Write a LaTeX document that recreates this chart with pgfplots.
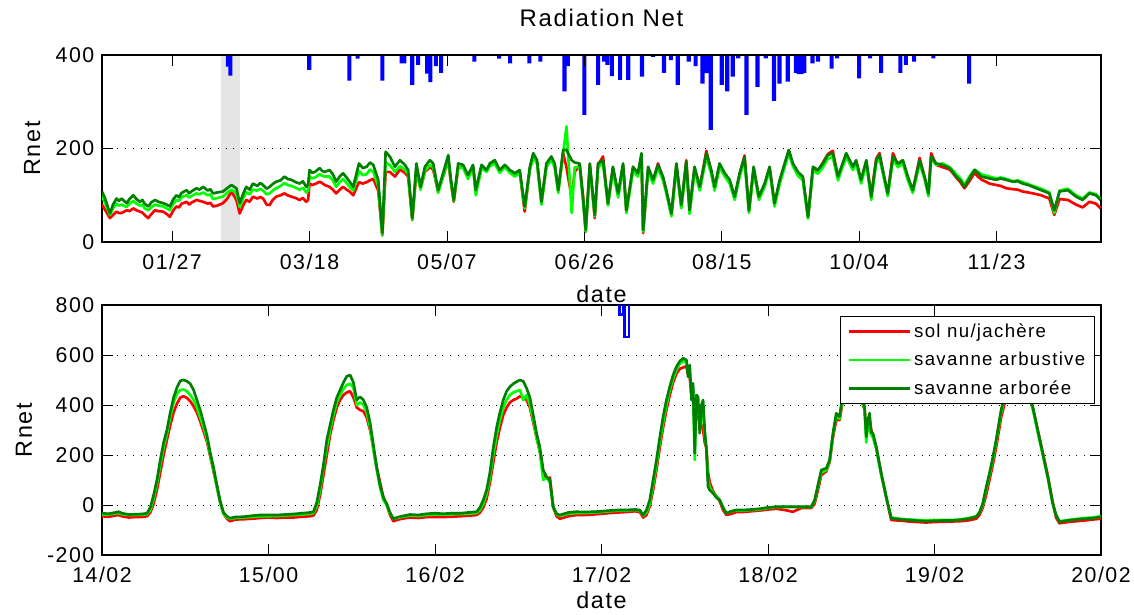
\documentclass[border=0pt]{standalone}
\usepackage{fontspec}
\setmainfont{Liberation Sans}[LetterSpace=7]
\usepackage{pgfplots}
\usepackage{pgfplotstable}
\pgfplotsset{compat=1.18}

\definecolor{rnred}{RGB}{255,0,0}
\definecolor{rnlgreen}{RGB}{0,255,0}
\definecolor{rndgreen}{RGB}{0,128,0}
\definecolor{rnblue}{RGB}{0,0,255}

% daily net radiation over the year: day of year, savanne arboree, savanne arbustive, sol nu
\pgfplotstableread{
day dg lg red
1.5 108 98 80
2.5 95 85 70
4.4 61 58 51
5.5 80 72 58
6.8 93 82 65
7.6 88 78 62
8.6 93 80 62
10.5 83 75 68
11.5 92 82 66
12.9 100 88 72
14 92 82 68
15.3 86 78 65
16.2 90 80 63
17 82 72 58
18.3 76 68 51
19.5 85 75 60
20.8 90 80 68
22 86 78 66
23.8 83 76 65
25 80 72 60
26.2 76 68 54
27.5 92 82 68
28.6 100 90 76
29.5 96 88 74
30.5 105 96 82
32.3 111 100 86
33.2 104 95 80
34 108 98 84
35.9 115 104 90
37 112 102 88
38.3 118 106 86
40 110 100 82
40.9 113 102 84
41.9 104 92 76
43.5 106 94 78
45.5 108 97 83
47 115 105 92
48.6 122 112 108
50.4 115 104 90
51.6 83 75 61
53 105 95 80
54 118 106 90
55.2 112 102 86
56.4 125 112 97
58 120 110 93
59.1 126 114 96
60.1 122 110 93
61.4 114 102 80
62.5 118 104 79
63.6 124 110 90
64.9 129 115 97
66.5 132 120 100
67.9 140 126 104
69 135 122 100
70.4 133 120 97
72 128 116 94
73.4 125 112 90
74.6 130 116 94
75.8 118 106 86
76.5 122 110 90
77 154 140 125
78 148 136 122
79 150 138 124
80.7 158 145 129
81.6 152 142 126
82.5 150 140 122
84.3 154 140 118
85.5 145 132 112
86.7 129 118 104
88 140 128 112
89.2 147 135 118
90.5 138 126 112
91.6 129 118 108
92.9 118 110 100
95 168 152 128
96.4 158 143 125
97.8 161 145 128
99 170 155 132
100.2 165 150 135
102 133 120 110
103.5 19 15 14
104.7 193 170 150
106.2 183 165 150
108.1 161 150 140
109.9 175 162 155
111.7 165 155 148
112.9 154 145 140
114.4 51 48 47
115.9 168 158 150
117.4 118 112 115
119 161 152 150
120.8 175 165 160
122 168 160 155
123.8 111 105 108
125.6 147 140 140
127.5 186 178 175
128.4 136 130 130
129.5 90 88 86
131.1 168 160 158
132.9 165 158 160
134.7 143 135 140
136.5 165 160 162
137.5 111 100 108
139.6 165 158 162
141.4 154 150 152
142.6 168 162 165
144.4 175 168 170
146.2 154 148 152
148.1 165 160 163
149.9 154 148 152
151.7 147 140 145
153.5 154 148 150
155.3 76 72 65
157.2 161 155 158
158.4 190 180 185
159.8 175 168 170
161.4 86 80 85
163.2 168 160 162
165 183 175 178
166.2 168 160 165
167.5 111 105 110
169.3 197 190 190
170.5 197 247 160
171.5 185 150 125
172.4 175 62 97
173.5 170 160 150
175.3 168 160 165
176.5 97 90 100
177.5 26 22 22
179 168 160 165
180.8 58 55 51
182 168 160 165
183.8 175 168 183
185.6 83 78 80
187.4 161 152 158
189.3 104 95 100
191.1 168 160 165
192.3 68 62 65
194.7 161 152 158
196.5 147 140 145
197.8 190 180 185
198.4 26 22 19
200.2 161 152 155
202 133 125 130
203.8 165 158 168
205.6 140 132 138
206.8 111 105 110
208.7 61 55 58
210.5 168 160 165
212.3 79 72 75
214.1 172 165 175
215.3 68 60 65
217.1 161 152 158
219 118 110 115
221.4 190 182 195
223.2 154 145 150
224.4 118 110 115
226.2 168 160 162
228.1 147 140 145
229.9 133 125 128
231.7 97 90 95
233.5 147 140 145
235.3 182 175 185
236.9 68 62 65
238.6 161 152 158
240.5 97 90 95
242.6 125 118 122
244.4 161 155 158
246.2 83 76 80
248.1 133 125 130
249.9 168 160 165
251.4 197 190 195
252.9 168 162 165
254.7 150 142 148
256.5 140 132 138
258.4 54 50 52
260.2 161 152 158
262 154 146 152
263.8 168 160 170
265.6 186 178 188
267.4 190 182 195
269.3 140 132 138
270.8 165 158 162
272.3 190 182 188
274.7 161 154 158
275.9 175 168 172
277.7 133 125 130
279.6 175 168 172
281.4 97 90 100
283.2 175 168 178
284.4 186 178 190
285.6 154 148 152
287.4 104 98 102
289.3 183 176 190
291.1 168 160 165
292.9 175 168 172
294.7 140 132 138
296.5 111 105 108
299 175 168 180
300.8 140 135 138
302.2 104 98 102
303.2 183 178 190
305 168 165 165
307.4 165 168 160
309.9 158 160 155
311 150 154 148
312.3 140 145 138
313.8 132 136 128
315.3 118 122 115
317.1 136 140 130
319 154 155 148
320.2 148 150 140
321.4 140 145 134
324.4 136 140 125
326.8 133 136 122
328.5 136 138 120
330.5 133 135 115
332.9 129 130 113
334.7 130 132 112
336.5 125 128 108
338.5 122 124 106
340.2 118 120 104
343.2 111 114 100
346.2 104 106 93
348 68 62 58
349.9 108 110 92
352.9 111 114 90
355.9 97 100 80
358.3 90 93 74
360.8 104 106 86
363.2 100 102 82
364.8 90 92 72
}\topdata

% daily rainfall, drawn downward from the top of the upper panel
\pgfplotstableread{
day depth
47.3 25
48.2 44
76.9 32
91.5 55
94.5 8
103.5 55
110.5 18
111.5 18
114.4 64
116.5 21
119.8 40
121 58
123 24
124.9 38
137 14
146 8
150 18
157 18
161 14
169.8 78
171 24
177 128
182 64
184.2 14
185.4 21
187 45
190 53
193 53
198 46
202 4
206 38
208.5 11
211 64
215 14
217.5 24
220 61
221.5 39
223 160
227 64
229 78
231 46
233 7
236 128
240 68
243 7
246 98
248 61
251 57
254 38
255 41
256 41
257 38
260 18
262 14
267 29
269 7
277 50
281 7
285 38
292 38
294 21
297 14
304 7
317 61
}\raindata

% 14/02 - 20/02 detail: days since 14/02 00:00
\pgfplotstableread{
t dg lg red
0.00 -33 -38 -45
0.04 -35 -38 -47
0.08 -30 -34 -42
0.10 -27 -32 -40
0.12 -33 -37 -45
0.16 -38 -40 -50
0.20 -37 -40 -48
0.24 -36 -39 -48
0.27 -33 -37 -45
0.29 -10 -20 -30
0.31 40 25 5
0.33 100 85 60
0.35 180 160 130
0.37 250 230 200
0.39 300 285 260
0.41 370 350 320
0.43 430 410 370
0.45 470 445 405
0.47 497 460 430
0.49 500 462 435
0.51 495 455 428
0.53 485 440 415
0.55 460 420 395
0.57 420 390 370
0.59 380 350 335
0.61 330 310 295
0.63 280 265 255
0.65 210 200 195
0.67 150 140 135
0.69 80 70 75
0.71 15 10 10
0.73 -30 -35 -35
0.75 -45 -50 -55
0.77 -53 -55 -65
0.80 -48 -52 -58
0.85 -47 -50 -57
0.90 -43 -48 -55
0.95 -40 -45 -52
1.00 -40 -45 -50
1.05 -40 -44 -52
1.10 -38 -42 -50
1.15 -36 -40 -50
1.20 -33 -38 -47
1.25 -30 -35 -45
1.27 -27 -32 -42
1.29 10 -5 -20
1.31 80 60 40
1.33 160 150 120
1.35 260 230 200
1.37 320 300 280
1.39 380 360 340
1.41 430 410 390
1.43 460 440 420
1.45 490 465 440
1.47 515 480 450
1.49 520 485 455
1.51 490 470 430
1.53 420 400 390
1.55 433 410 380
1.57 420 400 375
1.59 390 370 350
1.61 330 310 300
1.63 240 220 230
1.65 150 140 150
1.67 80 70 90
1.69 30 20 30
1.71 5 0 0
1.73 -30 -35 -40
1.75 -55 -55 -65
1.77 -50 -52 -60
1.80 -45 -48 -55
1.85 -38 -42 -50
1.90 -40 -44 -52
1.95 -35 -40 -48
2.00 -33 -38 -48
2.05 -35 -38 -48
2.10 -33 -37 -47
2.15 -33 -36 -45
2.20 -30 -35 -43
2.25 -27 -32 -40
2.27 -10 -20 -30
2.29 20 5 -10
2.31 60 45 25
2.33 130 110 90
2.35 230 200 170
2.37 310 280 250
2.39 370 340 310
2.41 420 390 360
2.43 455 420 390
2.45 473 440 410
2.47 485 450 420
2.49 493 455 425
2.51 500 460 435
2.53 495 420 430
2.55 467 440 420
2.57 430 400 390
2.59 360 340 330
2.61 287 270 270
2.63 230 210 215
2.65 140 100 130
2.67 113 110 105
2.69 100 90 110
2.71 -7 -10 -10
2.73 -35 -38 -45
2.75 -40 -43 -55
2.80 -30 -35 -45
2.85 -27 -32 -40
2.90 -28 -32 -40
2.95 -27 -30 -38
3.00 -25 -28 -35
3.05 -22 -25 -32
3.10 -20 -23 -30
3.15 -20 -22 -28
3.20 -18 -20 -25
3.23 -20 -22 -28
3.25 -40 -42 -50
3.27 -20 -30 -40
3.29 20 5 -5
3.31 100 80 60
3.33 180 160 140
3.35 270 250 230
3.37 353 330 310
3.39 420 400 380
3.41 473 460 440
3.43 520 505 490
3.45 553 540 525
3.47 575 565 545
3.49 587 575 550
3.51 580 570 555
3.52 513 540 520
3.53 560 520 510
3.54 420 460 440
3.55 487 470 430
3.56 207 180 300
3.57 440 420 380
3.58 433 400 350
3.59 287 300 330
3.60 400 390 320
3.61 420 360 300
3.62 300 280 250
3.63 220 230 230
3.64 73 100 130
3.65 60 70 90
3.67 47 50 55
3.69 30 35 35
3.71 20 20 15
3.73 -10 -10 -20
3.75 -33 -33 -40
3.78 -25 -25 -35
3.81 -20 -22 -28
3.85 -20 -22 -28
3.90 -18 -20 -25
3.95 -15 -18 -22
4.00 -10 -12 -18
4.05 -7 -8 -15
4.10 -7 -8 -20
4.15 -7 -8 -27
4.20 -7 -8 -12
4.26 -7 -8 -12
4.28 20 15 5
4.30 80 75 60
4.32 140 130 120
4.35 147 140 135
4.37 180 175 170
4.39 287 280 270
4.41 367 360 340
4.43 353 345 340
4.45 450 440 420
4.47 520 510 490
4.49 550 540 520
4.51 560 550 530
4.53 540 530 515
4.55 480 470 460
4.57 420 410 400
4.58 393 380 380
4.59 273 250 300
4.60 340 330 320
4.61 367 300 340
4.62 290 280 300
4.63 287 270 280
4.65 233 225 230
4.68 127 120 125
4.71 33 30 30
4.74 -53 -50 -60
4.80 -58 -56 -63
4.85 -60 -58 -66
4.90 -63 -60 -68
4.95 -65 -62 -70
5.00 -63 -60 -68
5.05 -62 -60 -67
5.10 -62 -60 -66
5.15 -60 -58 -65
5.20 -55 -53 -62
5.25 -47 -45 -55
5.27 -30 -30 -40
5.29 7 0 -10
5.31 70 60 40
5.33 127 120 100
5.35 190 180 160
5.37 260 250 230
5.40 380 370 350
5.43 460 450 430
5.46 520 510 490
5.49 550 540 520
5.52 545 535 520
5.55 500 490 480
5.57 450 440 430
5.59 393 385 390
5.62 300 290 300
5.65 207 200 210
5.68 113 110 120
5.71 7 5 10
5.73 -40 -40 -50
5.75 -67 -65 -73
5.80 -62 -60 -68
5.85 -58 -56 -65
5.90 -55 -52 -62
5.95 -53 -50 -58
6.00 -47 -45 -55
}\detaildata

\pgfplotsset{
  rnaxis/.style={
    scale only axis, width=749.25pt,
    tick align=inside, tick pos=both, major tick length=8pt,
    tick style={black, line width=0.6pt},
    axis line style={black, line width=0.8pt},
    ymajorgrids,
    grid style={black, line width=0.7pt, dash pattern=on 0.7pt off 5.1pt},
    ticklabel style={font=\fontsize{16}{19}\selectfont},
    label style={font=\fontsize{17.5}{21}\selectfont},
    xticklabel style={anchor=base, yshift=-20.5pt},
    yticklabel style={anchor=east, inner xsep=0pt, xshift=-5.6pt},
    /pgf/number format/assume math mode=true,
  },
  rnline/.style={line width=2pt, line join=round},
}

\begin{document}
\begin{tikzpicture}
\useasboundingbox (0,0) rectangle (850.5pt,-460.5pt);

% rainfall and highlighted week, hanging from the top of the upper panel
\begin{axis}[rnaxis, at={(76.5pt,-181.5pt)}, anchor=south west,
  height=140.25pt, xmin=1.5, xmax=365, ymin=0, ymax=400,
  y dir=reverse, hide axis]
\addplot[fill=gray!20, draw=none] coordinates {(44.8,400) (51.6,400)} \closedcycle;
\addplot[ybar, bar width=1.5, fill=rnblue, draw=none] table[x=day, y=depth] {\raindata};
\end{axis}

% upper panel: daily net radiation
\begin{axis}[rnaxis, at={(76.5pt,-181.5pt)}, anchor=south west,
  height=140.25pt, xmin=1.5, xmax=365, ymin=0, ymax=400,
  ytick={0,200,400},
  xtick={27,77,127,177,227,277,327},
  xticklabels={01/27,03/18,05/07,06/26,08/15,10/04,11/23},
  title={Radiation Net},
  title style={at={(axis description cs:0.5,1.107)}, anchor=base,
    font=\fontsize{18}{21}\selectfont},
  xlabel={date},
  xlabel style={at={(axis description cs:0.5,-0.3209)}, anchor=base},
  ylabel={Rnet},
  ylabel style={at={(axis description cs:-0.06206,0.5)}, anchor=base},
  ]
\addplot[rnred, rnline] table[x=day, y=red] {\topdata};
\addplot[rnlgreen, rnline] table[x=day, y=lg] {\topdata};
\addplot[rndgreen, rnline] table[x=day, y=dg] {\topdata};
\end{axis}

% lower panel: 14/02 - 20/02
\begin{axis}[rnaxis, at={(76.5pt,-416.25pt)}, anchor=south west,
  height=187.5pt, xmin=0, xmax=6, ymin=-200, ymax=800,
  ytick={-200,0,200,400,600,800},
  yticklabels={-200,0,200,400,600,800},
  xtick={0,1,2,3,4,5,6},
  xticklabels={14/02,15/00,16/02,17/02,18/02,19/02,20/02},
  xlabel={date},
  xlabel style={at={(axis description cs:0.5,-0.214)}, anchor=base},
  ylabel={Rnet},
  ylabel style={at={(axis description cs:-0.07007,0.5)}, anchor=base},
  legend style={at={(0.994,0.956)}, anchor=north east, draw=black,
    line width=0.6pt, fill=white, font=\fontsize{14}{17}\selectfont,
    inner xsep=5pt, inner ysep=3.5pt, row sep=5.5pt, cells={anchor=west}},
  legend image code/.code={\draw[#1] (0pt,0pt) -- (46pt,0pt);},
  ]
\addplot[rnred, rnline] table[x=t, y=red] {\detaildata};
\addplot[rnlgreen, rnline] table[x=t, y=lg] {\detaildata};
\addplot[rndgreen, rnline] table[x=t, y=dg] {\detaildata};
\addplot[rnblue, line width=2pt, forget plot] coordinates {
  (3.110,800) (3.110,762) (3.131,762) (3.131,800)
  (3.140,800) (3.140,672) (3.166,672) (3.166,800)};
\legend{sol nu/jachère, savanne arbustive, savanne arborée}
\end{axis}
\end{tikzpicture}
\end{document}
